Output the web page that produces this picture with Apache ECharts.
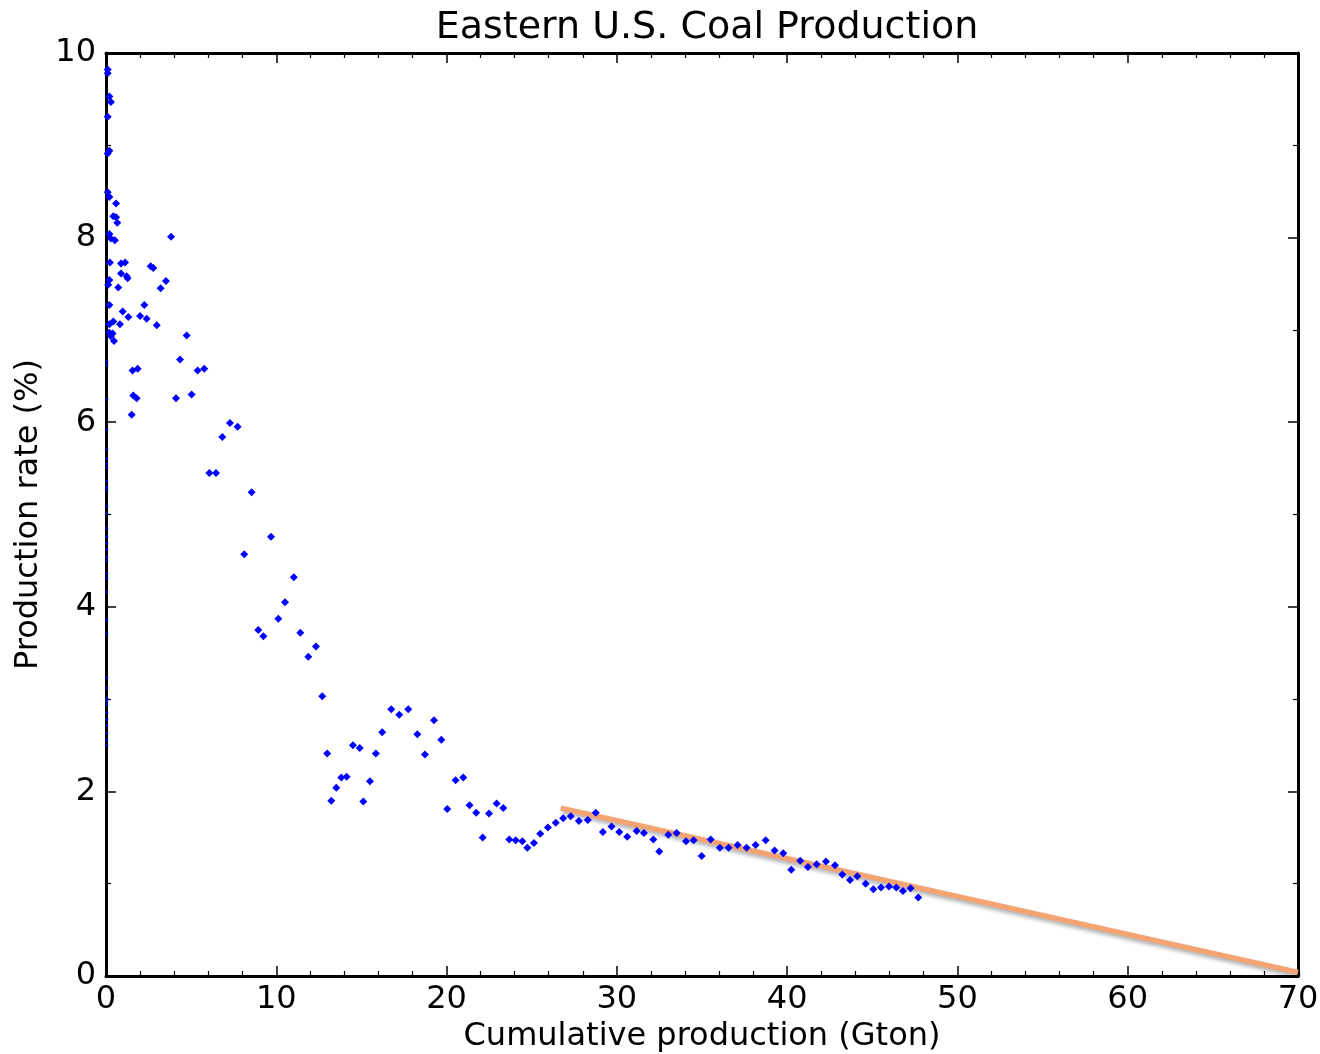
<!DOCTYPE html>
<html>
<head>
<meta charset="utf-8">
<script src="https://cdn.jsdelivr.net/npm/echarts@6/dist/echarts.min.js"></script>
<style>html,body{margin:0;padding:0;background:#fff}#c{width:1320px;height:1054px}</style>
</head>
<body>
<div id="c"></div>
<script>
const titleText = "Eastern U.S. Coal Production";
const xName = "Cumulative production (Gton)";
const yName = "Production rate (%)";

const pointX = [0.1,0.1,0.2,0.29,0.1,0.2,0.1,0.1,0.2,0.59,0.43,0.59,0.66,0.2,0.29,0.52,3.82,0.23,0.88,1.12,2.62,2.78,0.88,1.21,1.27,3.52,3.21,0.2,0.13,0.72,0.2,2.25,0.98,1.31,2.0,2.39,2.98,0.2,0.82,0.43,0.2,0.39,0.29,0.47,4.74,4.35,1.56,1.86,5.38,5.77,1.6,1.8,4.11,5.03,1.51,7.28,7.73,6.83,6.07,6.46,8.55,9.69,8.12,11.03,10.51,10.12,8.94,9.24,11.41,12.33,11.88,12.70,12.99,16.75,17.22,17.75,19.26,16.22,18.28,19.69,14.50,14.90,15.85,18.73,13.82,14.13,13.52,15.50,13.23,15.11,20.04,20.53,20.98,21.35,21.74,22.49,22.94,23.33,22.12,23.68,24.06,24.45,24.74,25.13,25.50,25.95,26.41,26.85,27.29,27.77,28.29,28.76,29.18,29.69,30.14,30.61,31.16,31.59,32.14,32.49,33.02,33.51,34.06,34.51,34.98,35.51,36.05,36.56,37.09,37.62,38.15,38.74,39.26,39.77,40.24,40.77,41.22,41.73,42.28,42.81,43.24,43.69,44.12,44.61,45.06,45.51,45.98,46.41,46.80,47.25,47.70];
const pointY = [9.82,9.78,9.53,9.47,9.31,8.94,8.91,8.49,8.44,8.37,8.23,8.22,8.16,8.04,7.99,7.97,8.01,7.73,7.72,7.73,7.69,7.67,7.61,7.58,7.56,7.53,7.45,7.54,7.49,7.46,7.27,7.27,7.20,7.14,7.15,7.12,7.05,7.06,7.06,7.09,6.97,6.96,6.93,6.88,6.94,6.68,6.56,6.58,6.56,6.58,6.29,6.26,6.26,6.30,6.08,5.99,5.95,5.84,5.45,5.45,5.24,4.76,4.57,4.32,4.05,3.87,3.75,3.68,3.72,3.57,3.46,3.03,2.41,2.89,2.83,2.89,2.77,2.64,2.62,2.56,2.50,2.47,2.41,2.40,2.15,2.16,2.04,2.11,1.90,1.89,1.81,2.12,2.15,1.85,1.77,1.76,1.87,1.82,1.50,1.48,1.47,1.46,1.39,1.44,1.54,1.61,1.66,1.71,1.73,1.68,1.69,1.77,1.56,1.62,1.56,1.51,1.57,1.55,1.48,1.35,1.53,1.55,1.46,1.47,1.30,1.48,1.39,1.39,1.42,1.39,1.42,1.47,1.36,1.33,1.15,1.25,1.18,1.21,1.24,1.20,1.10,1.04,1.08,1.00,0.94,0.96,0.97,0.96,0.92,0.95,0.85];

const earlyX = 0.05;
const earlyY = [6.66,6.62,6.25,5.92,5.71,5.60,5.55,5.51,5.36,5.30,5.27,5.09,5.01,4.85,4.76,4.69,4.62,4.54,4.50,4.36,4.31,4.16,3.86,3.71,3.23,3.12,3.01,2.98,2.94,2.85,2.78,2.71,2.63,2.56,2.50];

const fitX = [26.7, 70];
const fitY = [1.82, 0.04];

const xTicks = [0,10,20,30,40,50,60,70];
const yTicks = [0,2,4,6,8,10];

const FONT = "DejaVu Sans";
const chart = echarts.init(document.getElementById('c'), null, {renderer:'canvas'});

const tickStyle = {show:true, inside:true, length:10, lineStyle:{color:'#000', width:1.5}};
const minorStyle = {show:true, length:5, lineStyle:{color:'#000', width:1.2}};
const lineStyle = {show:true, onZero:false, lineStyle:{color:'#000', width:3}};

chart.setOption({
  animation:false,
  backgroundColor:'#fff',
  title:{text:titleText, left:702, textAlign:'center', top:4,
    textStyle:{fontFamily:FONT, fontSize:38, fontWeight:'normal', color:'#000'}},
  grid:{left:106, right:22, top:53, bottom:78, containLabel:false, outerBoundsMode:'none'},
  xAxis:[
    {type:'value', min:xTicks[0], max:xTicks[xTicks.length-1], interval:10, position:'bottom',
     name:xName, nameLocation:'middle', nameGap:42,
     nameTextStyle:{fontFamily:FONT, fontSize:32, color:'#000'},
     axisLine:lineStyle, axisTick:tickStyle, minorTick:Object.assign({splitNumber:5}, minorStyle),
     axisLabel:{fontFamily:FONT, fontSize:32, color:'#000', margin:8},
     splitLine:{show:false}},
    {type:'value', min:0, max:70, interval:10, position:'top',
     axisLine:lineStyle, axisTick:tickStyle, minorTick:Object.assign({splitNumber:5}, minorStyle),
     axisLabel:{show:false}, splitLine:{show:false}}
  ],
  yAxis:[
    {type:'value', min:yTicks[0], max:yTicks[yTicks.length-1], interval:2, position:'left',
     name:yName, nameLocation:'middle', nameGap:60,
     nameTextStyle:{fontFamily:FONT, fontSize:32, color:'#000'},
     axisLine:lineStyle, axisTick:tickStyle, minorTick:Object.assign({splitNumber:2}, minorStyle),
     axisLabel:{fontFamily:FONT, fontSize:32, color:'#000', margin:10},
     splitLine:{show:false}},
    {type:'value', min:0, max:10, interval:2, position:'right',
     axisLine:lineStyle, axisTick:tickStyle, minorTick:Object.assign({splitNumber:2}, minorStyle),
     axisLabel:{show:false}, splitLine:{show:false}}
  ],
  series:[
    {type:'line', data:fitX.map((x,i)=>[x,fitY[i]]), symbol:'none', z:3,
     lineStyle:{color:'#f4a472', width:5, shadowColor:'rgba(0,0,0,0.35)', shadowBlur:4, shadowOffsetX:2, shadowOffsetY:3}},
    {type:'scatter', data:earlyY.map(y=>[earlyX,y]), symbol:'circle', symbolSize:3, z:4,
     itemStyle:{color:'#0000ff'}},
    {type:'scatter', data:pointX.map((x,i)=>[x,pointY[i]]), symbol:'diamond', symbolSize:8, z:5,
     itemStyle:{color:'#0000ff', opacity:1}}
  ]
});
</script>
</body>
</html>
